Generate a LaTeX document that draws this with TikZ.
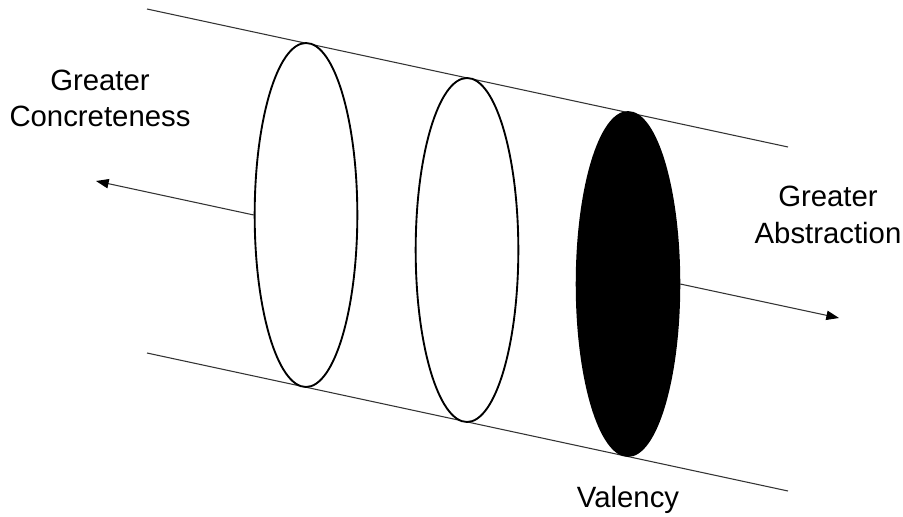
\documentclass[tikz,border=0pt]{standalone}
\usepackage{fontspec}
\setmainfont{Liberation Sans}
\usetikzlibrary{shapes.geometric,arrows.meta}
\tikzset{
  disc/.style={ellipse, draw=black, line width=1.4pt, minimum width=77pt, minimum height=258pt, inner sep=0pt, fill=white},
  edgeline/.style={draw=black!80, line width=0.8pt},
  arr/.style={draw=black!80, line width=0.8pt, -{Triangle[length=9.5pt,width=7pt,color=black]}},
  lbl/.style={font=\fontsize{22}{27}\selectfont, align=center, text=black}
}
\begin{document}
\begin{tikzpicture}[x=0.75pt,y=-0.75pt]
\useasboundingbox (0,0) rectangle (903,517);
% boundary lines
\coordinate (t1) at (147,9);
\coordinate (t2) at (788,147);
\coordinate (b1) at (147,353);
\coordinate (b2) at (788,491);
\draw[edgeline] (t1) -- (t2);
\draw[edgeline] (b1) -- (b2);
% discs
\node[disc] (e1) at (306,215) {};
\node[disc] (e2) at (467,250) {};
\node[disc, fill=black] (e3) at (628,284) {};
% arrows
\coordinate (lt) at (96,181);
\coordinate (rt) at (839,318);
\draw[arr] (e1.west) -- (lt);
\draw[arr] (e3.east) -- (rt);
% labels
\node[lbl, anchor=base] (lc) at (100,90) {Greater};
\node[lbl, anchor=base] (lc2) at (100,126) {Concreteness};
\node[lbl, anchor=base] (ra) at (828,206) {Greater};
\node[lbl, anchor=base] (ra2) at (828,243) {Abstraction};
\node[lbl, anchor=base] (va) at (628,507) {Valency};
\end{tikzpicture}
\end{document}
